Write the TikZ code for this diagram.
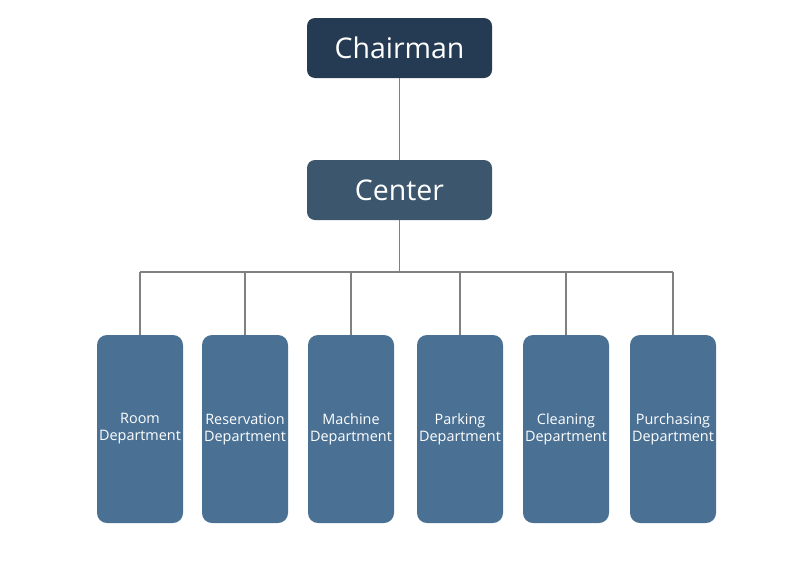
\documentclass[tikz,border=0pt]{standalone}
\usepackage{fontspec}
\setmainfont{Open Sans}
\definecolor{chairblue}{HTML}{243B53}
\definecolor{centerblue}{HTML}{3B566D}
\definecolor{deptblue}{HTML}{4A7094}
\definecolor{linkgray}{HTML}{808080}
\tikzset{
    topbox/.style={rounded corners=0.16cm, minimum width=3.7cm, minimum height=1.2cm, text=white, font=\fontsize{16.2}{19}\selectfont, inner sep=0pt},
    deptbox/.style={rounded corners=0.2cm, fill=deptblue, minimum width=1.72cm, minimum height=3.76cm, text=white, align=center, font=\fontsize{8.2}{9.6}\selectfont, inner sep=0pt},
    link/.style={draw=linkgray, line width=1.1pt}
}
\begin{document}
\begin{tikzpicture}
    \useasboundingbox (0,0) rectangle (16,-11.2);

    % Chairman and Center
    \node[topbox, fill=chairblue] (chair) at (7.99,-0.96) {Chairman};
    \node[topbox, fill=centerblue] (center) at (7.99,-3.8) {Center};
    \draw[link] (chair) -- (center);

    % bus line
    \coordinate (bus) at (7.99,-5.44);
    \draw[link] (center) -- (bus);

    % Departments
    \foreach \x/\name/\lbl in {2.8/room/Room, 4.9/resv/Reservation, 7.02/mach/Machine, 9.2/park/Parking, 11.32/clean/Cleaning, 13.46/purch/Purchasing} {
        \node[deptbox] (\name) at (\x,-8.58) {\lbl\\Department};
        \draw[link] (\name.north) -- (\x,-5.44);
    }
    \draw[link] (2.8,-5.44) -- (13.46,-5.44);
\end{tikzpicture}
\end{document}
